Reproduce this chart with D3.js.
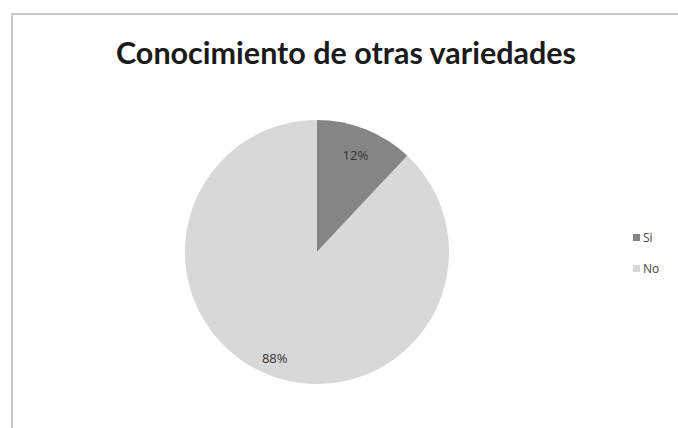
<!DOCTYPE html>
<html>
<head>
<meta charset="utf-8">
<script src="https://cdn.jsdelivr.net/npm/d3@7"></script>
<style>
  body { margin: 0; background: #fff; }
  svg { display: block; }
</style>
</head>
<body>
<svg id="chart" width="678" height="428"></svg>
<script>
// Survey answers: knowledge of other varieties
const categories = ["Si", "No"];
const values = [12, 88];
const labels = ["12%", "88%"];
const colors = ["#858585", "#d8d8d8"];

const svg = d3.select("#chart");
const W = 678, H = 428;

// Chart frame
svg.append("rect")
  .attr("x", 12).attr("y", 14)
  .attr("width", W).attr("height", H)
  .attr("fill", "#fff")
  .attr("stroke", "#c8c8c8").attr("stroke-width", 2);

// Title
svg.append("text")
  .attr("x", 346).attr("y", 64)
  .attr("text-anchor", "middle")
  .attr("font-family", "Lato, 'Open Sans', sans-serif")
  .attr("font-weight", "bold")
  .attr("font-size", 30.5)
  .attr("fill", "#1a1a1a")
  .text("Conocimiento de otras variedades");

const cx = 317, cy = 252, r = 132;
const pie = d3.pie().sort(null).value(d => d)(values);
const arc = d3.arc().innerRadius(0).outerRadius(r);

const g = svg.append("g").attr("transform", `translate(${cx},${cy})`);
g.selectAll("path")
  .data(pie)
  .join("path")
  .attr("d", arc)
  .attr("fill", (d, i) => colors[i]);

// Data labels placed inside each slice (small slice closer to centre)
const labelRadius = i => r * (i === 0 ? 0.79 : 0.87);
g.selectAll("text.lbl")
  .data(pie)
  .join("text")
  .attr("class", "lbl")
  .attr("transform", (d, i) => {
    const c = d3.arc().innerRadius(labelRadius(i)).outerRadius(labelRadius(i)).centroid(d);
    return `translate(${c[0]},${c[1]})`;
  })
  .attr("text-anchor", "middle")
  .attr("dy", "0.35em")
  .attr("font-family", "'Open Sans', Lato, sans-serif")
  .attr("font-size", 13)
  .attr("fill", "#333")
  .text((d, i) => labels[i]);

// Legend
const legend = svg.append("g").attr("transform", "translate(633,238)");
categories.forEach((c, i) => {
  const row = legend.append("g").attr("transform", `translate(0,${i * 31})`);
  row.append("rect").attr("x", 0).attr("y", -4).attr("width", 7).attr("height", 7)
    .attr("fill", colors[i]);
  row.append("text").attr("x", 10).attr("y", 0).attr("dy", "0.35em")
    .attr("font-family", "'Open Sans', Lato, sans-serif")
    .attr("font-size", 12).attr("fill", "#444")
    .text(c);
});
</script>
</body>
</html>
